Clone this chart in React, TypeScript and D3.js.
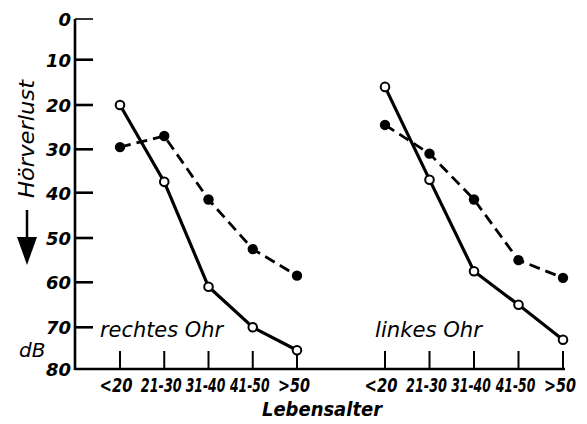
import React from "react";
import * as d3 from "d3";

// Age groups (Lebensalter) and hearing loss in dB per ear
const ageGroups = ["<20", "21-30", "31-40", "41-50", ">50"];
const yTickValues = [0, 10, 20, 30, 40, 50, 60, 70, 80];

// rechtes Ohr
const rightSolid = [20, 37.5, 61, 70, 75.5];
const rightDashed = [29.5, 27, 41.5, 52.5, 58.5];
// linkes Ohr
const leftSolid = [16, 37, 57.5, 65, 73];
const leftDashed = [24.5, 31, 41.5, 55, 59];

const W = 587;
const H = 424;
const FONT = "'DejaVu Sans', 'Liberation Sans', sans-serif";

export default function App() {
  const axisX = 75;
  const baseY = 369;

  // hand-ruled axis: tick spacing is not perfectly even, so map each labelled tick
  const y = d3
    .scaleLinear()
    .domain(yTickValues)
    .range([19, 59.7, 105, 149.3, 192.7, 238, 282.3, 327.3, baseY]);

  const xRight = d3.scalePoint<string>().domain(ageGroups).range([120, 297]);
  const xLeft = d3.scalePoint<string>().domain(ageGroups).range([385, 563]);

  const panels = [
    { x: xRight, solid: rightSolid, dashed: rightDashed, label: "rechtes Ohr", lx: 100, lw: 123 },
    { x: xLeft, solid: leftSolid, dashed: leftDashed, label: "linkes Ohr", lx: 375, lw: 107 },
  ];

  const line = (xs: d3.ScalePoint<string>) =>
    d3
      .line<number>()
      .x((_, i) => xs(ageGroups[i]) as number)
      .y((d) => y(d));

  // condensed age labels: horizontal squeeze per label
  const labelScale = [0.74, 0.64, 0.62, 0.62, 0.72];
  const labelShift = [-4, -3, -3, -3, -3];

  return (
    <svg
      width={W}
      height={H}
      style={{ position: "absolute", left: 0, top: 0, background: "#fff" }}
      fontFamily={FONT}
    >
      {/* y axis */}
      <line x1={axisX} x2={axisX} y1={19} y2={baseY + 1} stroke="#000" strokeWidth={2.6} />
      {yTickValues.map((v) =>
        v === 80 ? null : (
          <line
            key={"yt" + v}
            x1={axisX}
            x2={axisX + 18}
            y1={y(v)}
            y2={y(v)}
            stroke="#000"
            strokeWidth={v === 0 ? 1.6 : 2.6}
          />
        )
      )}
      {yTickValues.map((v) => (
        <text
          key={"yl" + v}
          x={axisX - 4}
          y={y(v) + 7}
          textAnchor="end"
          fontSize={18}
          fontWeight="bold"
          fontStyle="italic"
        >
          {v}
        </text>
      ))}

      {/* y axis title with arrow */}
      <text
        transform="translate(34,139) rotate(-90)"
        textAnchor="middle"
        fontSize={21}
        fontStyle="italic"
        textLength={118}
        lengthAdjust="spacingAndGlyphs"
      >
        Hörverlust
      </text>
      <line x1={27} x2={27} y1={210} y2={240} stroke="#000" strokeWidth={2.5} />
      <path d="M17,237 L37,237 L27,265 Z" fill="#000" />
      <text x={19} y={357} fontSize={20} fontStyle="italic">
        dB
      </text>

      {/* x axis */}
      <line x1={axisX} x2={565} y1={baseY} y2={baseY} stroke="#000" strokeWidth={2.6} />

      {panels.map((p, pi) => (
        <g key={"p" + pi}>
          {ageGroups.map((g, i) => (
            <g key={g}>
              <line
                x1={p.x(g)}
                x2={p.x(g)}
                y1={baseY - 18}
                y2={baseY}
                stroke="#000"
                strokeWidth={2}
              />
              <text
                transform={`translate(${(p.x(g) as number) + labelShift[i]},392) scale(${labelScale[i]},1)`}
                textAnchor="middle"
                fontSize={20}
                fontWeight="bold"
                fontStyle="italic"
              >
                {g}
              </text>
            </g>
          ))}

          <path
            d={line(p.x)(p.dashed) || ""}
            fill="none"
            stroke="#000"
            strokeWidth={2.8}
            strokeDasharray="11 6"
          />
          <path d={line(p.x)(p.solid) || ""} fill="none" stroke="#000" strokeWidth={3.2} />

          {p.dashed.map((v, i) => (
            <circle key={"d" + i} cx={p.x(ageGroups[i])} cy={y(v)} r={5.2} fill="#000" />
          ))}
          {p.solid.map((v, i) => (
            <circle
              key={"s" + i}
              cx={p.x(ageGroups[i])}
              cy={y(v)}
              r={4.3}
              fill="#fff"
              stroke="#000"
              strokeWidth={2}
            />
          ))}

          <text
            x={p.lx}
            y={337}
            fontSize={21}
            fontStyle="italic"
            textLength={p.lw}
            lengthAdjust="spacingAndGlyphs"
          >
            {p.label}
          </text>
        </g>
      ))}

      <text
        x={322}
        y={416}
        textAnchor="middle"
        fontSize={20}
        fontStyle="italic"
        fontWeight="bold"
        textLength={120}
        lengthAdjust="spacingAndGlyphs"
      >
        Lebensalter
      </text>
    </svg>
  );
}
